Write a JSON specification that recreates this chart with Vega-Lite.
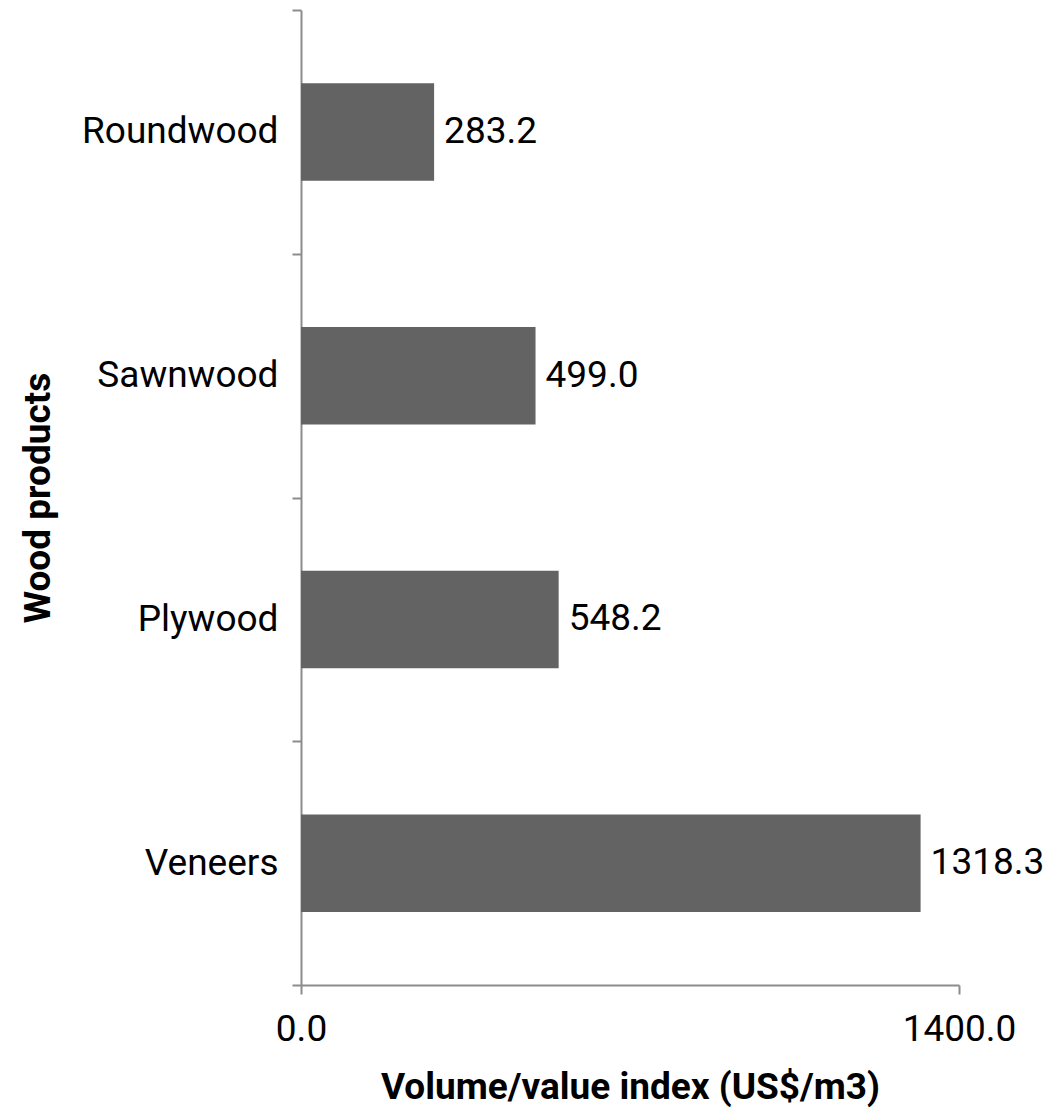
{
  "$schema": "https://vega.github.io/schema/vega-lite/v6.json",
  "width": 658,
  "height": 975,
  "padding": {"left": 301, "top": 10, "right": 87, "bottom": 132},
  "autosize": {"type": "none"},
  "config": {
    "view": {"stroke": null},
    "font": "Roboto",
    "axis": {
      "domainColor": "#8c8c8c",
      "domainWidth": 2,
      "tickColor": "#8c8c8c",
      "tickWidth": 2,
      "tickSize": 9,
      "grid": false,
      "labelFont": "Roboto",
      "labelColor": "#000000",
      "labelFontSize": 37,
      "labelLimit": 400,
      "titleFont": "Roboto",
      "titleColor": "#000000",
      "titleFontSize": 37,
      "titleFontWeight": "bold"
    }
  },
  "data": {
    "values": [
      {"product": "Roundwood", "value": 283.2},
      {"product": "Sawnwood", "value": 499.0},
      {"product": "Plywood", "value": 548.2},
      {"product": "Veneers", "value": 1318.3}
    ]
  },
  "encoding": {
    "y": {
      "field": "product",
      "type": "nominal",
      "sort": null,
      "scale": {"paddingInner": 0, "paddingOuter": 0},
      "axis": {
        "title": "Wood products",
        "tickBand": "extent",
        "labelPadding": 14,
        "titlePadding": 44
      }
    },
    "x": {
      "field": "value",
      "type": "quantitative",
      "scale": {"domain": [0, 1400], "nice": false},
      "axis": {
        "title": "Volume/value index (US$/m3)",
        "values": [0, 1400],
        "format": ".1f",
        "labelPadding": 17,
        "titlePadding": 22,
        "labelFlush": false
      }
    }
  },
  "layer": [
    {"mark": {"type": "bar", "color": "#636363", "height": {"band": 0.4}}},
    {
      "mark": {"type": "text", "align": "left", "dx": 10, "fontSize": 37, "font": "Roboto", "color": "#000000"},
      "encoding": {"text": {"field": "value", "type": "quantitative", "format": ".1f"}}
    }
  ]
}
